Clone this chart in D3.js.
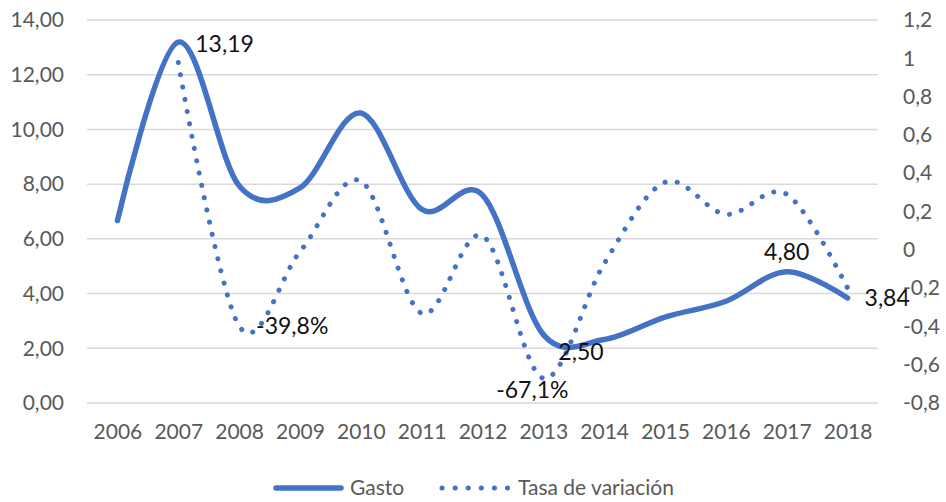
<!DOCTYPE html>
<html>
<head>
<meta charset="utf-8">
<script src="https://cdn.jsdelivr.net/npm/d3@7"></script>
<style>
  body { margin: 0; background: #fff; }
  svg { font-family: Lato, "Open Sans", sans-serif; }
</style>
</head>
<body>
<script>
// data
var years = ["2006", "2007", "2008", "2009", "2010", "2011", "2012", "2013", "2014", "2015", "2016", "2017", "2018"];
var gasto = [6.67, 13.19, 7.94, 7.86, 10.6, 7.08, 7.6, 2.50, 2.32, 3.14, 3.72, 4.80, 3.84];
var tasa = [null, 0.978, -0.398, -0.01, 0.359, -0.332, 0.073, -0.671, -0.072, 0.353, 0.185, 0.29, -0.2];
var leftTicks = [0, 2, 4, 6, 8, 10, 12, 14];
var rightTicks = [-0.8, -0.6, -0.4, -0.2, 0, 0.2, 0.4, 0.6, 0.8, 1, 1.2];
// which points get a label, and where
var gastoLabels = [
  { i: 1, pos: "right" },
  { i: 7, pos: "right" },
  { i: 11, pos: "top" },
  { i: 12, pos: "right" }
];
var tasaLabels = [
  { i: 2, pos: "right" },
  { i: 7, pos: "bottom" }
];

var width = 946, height = 502;
var margin = { top: 20, right: 68, bottom: 99, left: 87 };
var blue = "#4472C4", grey = "#595959";

var svg = d3.select("body").append("svg")
    .attr("width", width)
    .attr("height", height);

var x = d3.scalePoint()
    .domain(years)
    .range([margin.left, width - margin.right])
    .padding(0.5);

var yL = d3.scaleLinear()
    .domain([0, 14])
    .range([height - margin.bottom, margin.top]);

var yR = d3.scaleLinear()
    .domain([-0.8, 1.2])
    .range([height - margin.bottom, margin.top]);

var comma = function (fmt) {
    return function (d) { return d3.format(fmt)(d).replace(".", ",").replace("−", "-"); };
};

// gridlines
svg.append("g")
    .selectAll("line")
    .data(leftTicks)
    .enter().append("line")
    .attr("x1", margin.left)
    .attr("x2", width - margin.right)
    .attr("y1", function (d) { return yL(d); })
    .attr("y2", function (d) { return yL(d); })
    .attr("stroke", "#d9d9d9")
    .attr("stroke-width", 1.5);

// left axis
var leftAxis = svg.append("g")
    .attr("transform", "translate(" + (margin.left - 23) + ",0)")
    .call(d3.axisLeft(yL).tickValues(leftTicks).tickFormat(comma(".2f")).tickSize(0).tickPadding(0));
leftAxis.select(".domain").remove();

// right axis
var rightAxis = svg.append("g")
    .attr("transform", "translate(" + (width - margin.right + 25) + ",0)")
    .call(d3.axisRight(yR).tickValues(rightTicks).tickFormat(function (d) {
        return String(Math.round(d * 10) / 10).replace(".", ",");
    }).tickSize(0).tickPadding(0));
rightAxis.select(".domain").remove();

// bottom axis
var bottomAxis = svg.append("g")
    .attr("transform", "translate(0," + (height - margin.bottom + 21) + ")")
    .call(d3.axisBottom(x).tickSize(0).tickPadding(0));
bottomAxis.select(".domain").remove();

svg.selectAll(".tick text")
    .attr("fill", grey)
    .style("font-size", "21px")
    .style("font-family", "Lato, 'Open Sans', sans-serif");

var curve = d3.curveCardinal.tension(0);

var gastoLine = d3.line()
    .x(function (d, i) { return x(years[i]); })
    .y(function (d) { return yL(d); })
    .curve(curve);

var tasaLine = d3.line()
    .defined(function (d) { return d !== null; })
    .x(function (d, i) { return x(years[i]); })
    .y(function (d) { return yR(d); })
    .curve(curve);

svg.append("path")
    .datum(tasa)
    .attr("d", tasaLine)
    .attr("fill", "none")
    .attr("stroke", blue)
    .attr("stroke-width", 5)
    .attr("stroke-linecap", "round")
    .attr("stroke-dasharray", "0.1 12.4");

svg.append("path")
    .datum(gasto)
    .attr("d", gastoLine)
    .attr("fill", "none")
    .attr("stroke", blue)
    .attr("stroke-width", 5.5)
    .attr("stroke-linecap", "round");

// data labels
function addLabel(px, py, txt, pos) {
    var t = svg.append("text")
        .attr("fill", "#111")
        .style("font-size", "23px")
        .text(txt);
    if (pos === "right") {
        t.attr("x", px + 17).attr("y", py).attr("dy", "0.35em");
    } else if (pos === "top") {
        t.attr("x", px).attr("y", py - 12).attr("text-anchor", "middle");
    } else {
        t.attr("x", px - 11).attr("y", py + 20).attr("text-anchor", "middle");
    }
    return t;
}

gastoLabels.forEach(function (l) {
    var t = addLabel(x(years[l.i]), yL(gasto[l.i]), comma(".2f")(gasto[l.i]), l.pos);
    if (l.i === 1) t.attr("y", yL(gasto[l.i]) + 2);
    if (l.i === 7) t.attr("x", x(years[l.i]) + 15).attr("y", yL(gasto[l.i]) + 17);
});
tasaLabels.forEach(function (l) {
    addLabel(x(years[l.i]), yR(tasa[l.i]), comma(".1%")(tasa[l.i]), l.pos);
});

// legend
var legend = svg.append("g").attr("transform", "translate(0,488)");
legend.append("line")
    .attr("x1", 276).attr("x2", 341)
    .attr("stroke", blue).attr("stroke-width", 5.5).attr("stroke-linecap", "round");
legend.append("text")
    .attr("x", 350).attr("dy", "0.35em")
    .attr("fill", grey).style("font-size", "21px")
    .text("Gasto");
legend.append("line")
    .attr("x1", 442).attr("x2", 508)
    .attr("stroke", blue).attr("stroke-width", 5).attr("stroke-linecap", "round")
    .attr("stroke-dasharray", "0.1 13");
legend.append("text")
    .attr("x", 518).attr("dy", "0.35em")
    .attr("fill", grey).style("font-size", "21px")
    .text("Tasa de variación");
</script>
</body>
</html>
